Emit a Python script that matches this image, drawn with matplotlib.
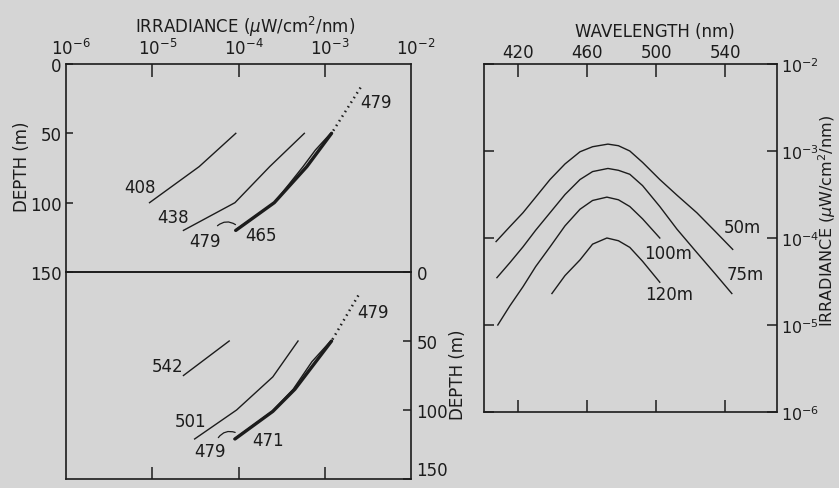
import numpy as np
import matplotlib
matplotlib.use("Agg")
import matplotlib.pyplot as plt
from matplotlib.ticker import NullLocator
from matplotlib.transforms import offset_copy

plt.rcParams['font.family'] = ['DejaVu Sans']
plt.rcParams['mathtext.fontset'] = 'dejavusans'

# ---- left panels: irradiance (uW/cm2/nm) vs depth (m) ----
# upper panel
depth_408 = [50, 74, 100]
irr_408 = [9.3e-5, 3.5e-5, 9.3e-6]
depth_438 = [50, 74, 100, 120]
irr_438 = [5.8e-4, 2.3e-4, 9.1e-5, 2.3e-5]
depth_465 = [50, 74, 100, 120]
irr_465 = [1.2e-3, 6.2e-4, 2.6e-4, 9.3e-5]
depth_479a = [50, 62, 74, 100, 120]
irr_479a = [1.17e-3, 7.8e-4, 5.6e-4, 2.6e-4, 9.1e-5]
depth_479a_dot = [17, 50]
irr_479a_dot = [2.6e-3, 1.2e-3]

# lower panel
depth_542 = [50, 75]
irr_542 = [7.8e-5, 2.3e-5]
depth_501 = [50, 76, 100, 121]
irr_501 = [4.9e-4, 2.5e-4, 9.5e-5, 3.1e-5]
depth_471 = [50, 85, 101, 121]
irr_471 = [1.2e-3, 4.5e-4, 2.5e-4, 9.1e-5]
depth_479b = [50, 65, 85, 101, 121]
irr_479b = [1.17e-3, 7.1e-4, 4.3e-4, 2.45e-4, 8.9e-5]
depth_479b_dot = [17, 50]
irr_479b_dot = [2.45e-3, 1.2e-3]

# ---- right panel: spectra at depth ----
wl_50 = [407, 415, 422.6, 430, 438.3, 447, 455.7, 463, 471.9, 478, 484.6, 492, 502, 512, 523.5, 534, 544.3]
irr_50 = [9.1e-5, 1.35e-4, 1.95e-4, 2.95e-4, 4.7e-4, 7.1e-4, 9.8e-4, 1.12e-3, 1.2e-3, 1.15e-3,
          1.0e-3, 7.4e-4, 4.7e-4, 3.1e-4, 1.95e-4, 1.2e-4, 7.4e-5]
wl_75 = [407.5, 415, 422.6, 430, 438.3, 447, 455.7, 463, 471.9, 478, 484.6, 492, 502, 512, 523.5, 534, 543.8]
irr_75 = [3.5e-5, 5.2e-5, 7.9e-5, 1.23e-4, 1.95e-4, 3.16e-4, 4.7e-4, 5.8e-4, 6.3e-4, 6.0e-4,
          5.4e-4, 4.0e-4, 2.3e-4, 1.26e-4, 6.8e-5, 3.9e-5, 2.3e-5]
wl_100 = [408, 415, 422.6, 430, 438.3, 447, 455.7, 463, 471.3, 478, 484.6, 492, 502]
irr_100 = [1.0e-5, 1.66e-5, 2.75e-5, 4.7e-5, 7.9e-5, 1.38e-4, 2.14e-4, 2.7e-4, 2.95e-4, 2.75e-4,
           2.3e-4, 1.66e-4, 1.0e-4]
wl_120 = [439.4, 447, 455.7, 463, 471.3, 478, 484.6, 492, 502]
irr_120 = [2.3e-5, 3.7e-5, 5.6e-5, 8.5e-5, 1.0e-4, 9.3e-5, 7.8e-5, 5.4e-5, 3.1e-5]

irr_ticks = [1e-6, 1e-5, 1e-4, 1e-3, 1e-2]
irr_ticklabels = ["$10^{-6}$", "$10^{-5}$", "$10^{-4}$", "$10^{-3}$", "$10^{-2}$"]
depth_ticks = [0, 50, 100, 150]
wl_ticks = [420, 460, 500, 540]

bg = "#d5d5d5"
ink = "#1c1c1c"
W, H = 839, 489

fig = plt.figure(figsize=(W / 100, H / 100), dpi=100, facecolor=bg)


def box(x0, y0, x1, y1):
    return [x0 / W, 1 - y1 / H, (x1 - x0) / W, (y1 - y0) / H]


ax1 = fig.add_axes(box(66, 65, 411, 273))
ax2 = fig.add_axes(box(66, 273, 411, 480))
ax3 = fig.add_axes(box(484, 65, 777, 413))

for ax in (ax1, ax2, ax3):
    ax.set_facecolor("none")
    for s in ax.spines.values():
        s.set_linewidth(1.2)
        s.set_color(ink)

thin = dict(color=ink, lw=1.0)
thick = dict(color=ink, lw=2.4, solid_capstyle="round")

# upper left
ax1.plot(irr_408, depth_408, **thin)
ax1.plot(irr_438, depth_438, **thin)
ax1.plot(irr_479a, depth_479a, **thin)
ax1.plot(irr_465, depth_465, **thick)
ax1.plot(irr_479a_dot, depth_479a_dot, color=ink, lw=1.8, linestyle=(0, (0.6, 1.6)))
ax1.text(7.2e-6, 88.7, "408", ha="center", va="center", fontsize=12, color=ink)
ax1.text(1.74e-5, 110, "438", ha="center", va="center", fontsize=12, color=ink)
ax1.text(4.1e-5, 127.6, "479", ha="center", va="center", fontsize=12, color=ink)
ax1.text(1.8e-4, 123, "465", ha="center", va="center", fontsize=12, color=ink)
ax1.text(3.9e-3, 27.4, "479", ha="center", va="center", fontsize=12, color=ink)
ax1.annotate("", xy=(9.8e-5, 117), xytext=(5.4e-5, 118),
             arrowprops=dict(arrowstyle="-", color=ink, lw=0.9,
                             connectionstyle="arc3,rad=-0.45"))

# lower left
ax2.plot(irr_542, depth_542, **thin)
ax2.plot(irr_501, depth_501, **thin)
ax2.plot(irr_479b, depth_479b, **thin)
ax2.plot(irr_471, depth_471, **thick)
ax2.plot(irr_479b_dot, depth_479b_dot, color=ink, lw=1.8, linestyle=(0, (0.6, 1.6)))
ax2.text(1.5e-5, 68, "542", ha="center", va="center", fontsize=12, color=ink)
ax2.text(2.8e-5, 108, "501", ha="center", va="center", fontsize=12, color=ink)
ax2.text(4.7e-5, 130, "479", ha="center", va="center", fontsize=12, color=ink)
ax2.text(2.2e-4, 122, "471", ha="center", va="center", fontsize=12, color=ink)
ax2.text(3.6e-3, 29, "479", ha="center", va="center", fontsize=12, color=ink)
ax2.annotate("", xy=(9.8e-5, 117), xytext=(5.6e-5, 121.7),
             arrowprops=dict(arrowstyle="-", color=ink, lw=0.9,
                             connectionstyle="arc3,rad=-0.45"))

for ax in (ax1, ax2):
    ax.set_xscale("log")
    ax.set_xlim(1e-6, 1e-2)
    ax.set_ylim(150, 0)
    ax.xaxis.set_minor_locator(NullLocator())
    ax.set_xticks([1e-5, 1e-4, 1e-3])
    ax.set_xticklabels([])
    ax.set_yticks(depth_ticks)

ax1.tick_params(axis="x", which="both", top=True, bottom=False, direction="in", length=9,
                width=1.1, color=ink)
ax1.tick_params(axis="y", left=True, right=False, direction="in", length=5, width=1.1,
                color=ink, labelsize=12, labelcolor=ink, pad=3)
ax2.tick_params(axis="x", which="both", top=False, bottom=True, direction="in", length=9,
                width=1.1, color=ink)
ax2.tick_params(axis="y", left=False, right=True, labelleft=False, labelright=True,
                direction="in", length=6, width=1.1, color=ink, labelsize=12,
                labelcolor=ink, pad=4)
# the last depth label sits at the very bottom edge, lift it a little so it stays whole
ax2.get_yticklabels()[-1].set_va("bottom")

# irradiance labels along the top of the upper panel
lab_tr = offset_copy(ax1.get_xaxis_transform(), fig=fig, x=5, y=6, units="dots")
for v, s in zip(irr_ticks, irr_ticklabels):
    ax1.text(v, 1.0, s, transform=lab_tr, ha="center", va="bottom", fontsize=12, color=ink)

# right panel
ax3.plot(wl_50, irr_50, **thin)
ax3.plot(wl_75, irr_75, **thin)
ax3.plot(wl_100, irr_100, **thin)
ax3.plot(wl_120, irr_120, **thin)
ax3.text(550.1, 1.35e-4, "50m", ha="center", va="center", fontsize=12, color=ink)
ax3.text(506.7, 6.8e-5, "100m", ha="center", va="center", fontsize=12, color=ink)
ax3.text(551.3, 3.9e-5, "75m", ha="center", va="center", fontsize=12, color=ink)
ax3.text(507.2, 2.3e-5, "120m", ha="center", va="center", fontsize=12, color=ink)

ax3.set_yscale("log")
ax3.set_xlim(400, 570)
ax3.set_ylim(1e-6, 1e-2)
ax3.yaxis.set_minor_locator(NullLocator())
ax3.set_xticks(wl_ticks)
ax3.set_yticks(irr_ticks)
ax3.set_yticklabels(irr_ticklabels)
ax3.tick_params(axis="x", top=True, bottom=True, labeltop=True, labelbottom=False,
                direction="in", length=9, width=1.1, color=ink, labelsize=12,
                labelcolor=ink, pad=2)
ax3.tick_params(axis="y", left=True, right=True, labelleft=False, labelright=True,
                direction="in", length=7, width=1.1, color=ink, labelsize=11.5,
                labelcolor=ink, pad=3)

# axis titles
fig.text(245 / W, 1 - 27 / H, r"IRRADIANCE ($\mu$W/cm$^2$/nm)", ha="center", va="center",
         fontsize=12, color=ink)
fig.text(22 / W, 1 - 167 / H, "DEPTH (m)", rotation=90, ha="center", va="center",
         fontsize=12, color=ink)
fig.text(458 / W, 1 - 375 / H, "DEPTH (m)", rotation=90, ha="center", va="center",
         fontsize=12, color=ink)
fig.text(655 / W, 1 - 32 / H, "WAVELENGTH (nm)", ha="center", va="center",
         fontsize=12, color=ink)
fig.text(827 / W, 1 - 221 / H, r"IRRADIANCE ($\mu$W/cm$^2$/nm)", rotation=90,
         ha="center", va="center", fontsize=11.5, color=ink)

fig.savefig("out.png", dpi=100, facecolor=bg)
